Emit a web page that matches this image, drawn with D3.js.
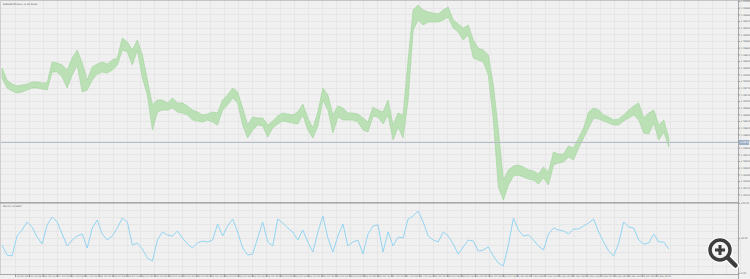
<!DOCTYPE html>
<html><head><meta charset="utf-8">
<script src="https://cdn.jsdelivr.net/npm/d3@7"></script>
<style>html,body{margin:0;padding:0;background:#f0f0f0;overflow:hidden}</style>
</head><body><svg id="c" width="750" height="279"></svg>
<script>
// ---------- data ----------
const chartTitle = "EURUSD,M5  Euro vs US Dollar";
const indicatorTitle = "RSI(14) 34.2857";
const currentPrice = 1.06577;

const priceHigh = [1.06799,1.06763,1.06751,1.06745,1.06748,1.06751,1.06757,1.06757,1.06754,1.06754,
 1.06817,1.06814,1.06808,1.06793,1.06829,1.06853,1.06814,1.06763,1.06802,1.06811,
 1.06817,1.06811,1.06823,1.06829,1.06889,1.06877,1.06853,1.06883,1.06838,1.06763,
 1.06688,1.06703,1.06703,1.06694,1.06709,1.06694,1.06694,1.06685,1.06673,1.06667,
 1.06658,1.06661,1.06667,1.06664,1.06703,1.06718,1.06739,1.06727,1.06679,1.06628,
 1.06652,1.06649,1.06649,1.06628,1.06640,1.06655,1.06664,1.06661,1.06658,1.06667,
 1.06691,1.06649,1.06619,1.06667,1.06739,1.06718,1.06658,1.06685,1.06679,1.06664,
 1.06664,1.06661,1.06649,1.06637,1.06682,1.06673,1.06667,1.06703,1.06628,1.06664,
 1.06658,1.06823,1.06973,1.06988,1.06973,1.06967,1.06964,1.06961,1.06973,1.06982,
 1.06943,1.06931,1.06919,1.06928,1.06883,1.06859,1.06853,1.06838,1.06748,1.06613,
 1.06463,1.06493,1.06505,1.06508,1.06502,1.06493,1.06490,1.06481,1.06502,1.06487,
 1.06547,1.06541,1.06541,1.06565,1.06559,1.06589,1.06619,1.06667,1.06679,1.06673,
 1.06658,1.06652,1.06643,1.06646,1.06658,1.06673,1.06685,1.06694,1.06649,1.06664,
 1.06673,1.06628,1.06643,1.06589];

const priceLow = [1.06769,1.06739,1.06730,1.06724,1.06727,1.06733,1.06739,1.06739,1.06736,1.06733,
 1.06787,1.06787,1.06772,1.06739,1.06778,1.06808,1.06727,1.06733,1.06763,1.06781,
 1.06787,1.06784,1.06793,1.06808,1.06853,1.06847,1.06808,1.06853,1.06769,1.06718,
 1.06613,1.06667,1.06673,1.06673,1.06679,1.06667,1.06664,1.06658,1.06643,1.06640,
 1.06637,1.06643,1.06637,1.06628,1.06673,1.06688,1.06709,1.06694,1.06628,1.06589,
 1.06613,1.06628,1.06625,1.06592,1.06619,1.06631,1.06640,1.06637,1.06634,1.06631,
 1.06658,1.06613,1.06589,1.06625,1.06703,1.06673,1.06604,1.06652,1.06643,1.06643,
 1.06643,1.06637,1.06613,1.06607,1.06655,1.06652,1.06631,1.06658,1.06583,1.06622,
 1.06589,1.06703,1.06913,1.06943,1.06928,1.06937,1.06937,1.06937,1.06943,1.06952,
 1.06919,1.06907,1.06883,1.06898,1.06829,1.06823,1.06817,1.06778,1.06643,1.06442,
 1.06403,1.06448,1.06475,1.06478,1.06472,1.06466,1.06463,1.06451,1.06469,1.06448,
 1.06508,1.06514,1.06517,1.06532,1.06523,1.06559,1.06589,1.06619,1.06649,1.06646,
 1.06640,1.06634,1.06628,1.06628,1.06640,1.06649,1.06658,1.06643,1.06604,1.06601,
 1.06634,1.06583,1.06607,1.06562];

const indicatorValues = [40.0,25.7,24.3,52.9,61.4,72.9,65.7,51.4,41.4,68.6,
 80.0,72.9,55.7,38.6,47.1,52.9,55.7,35.7,64.3,75.7,
 55.7,47.1,52.9,64.3,78.6,72.9,40.0,42.9,34.3,21.4,
 17.1,47.1,58.6,54.3,52.9,60.0,50.0,41.4,35.7,42.9,
 45.7,44.3,47.1,70.0,52.9,67.1,77.1,58.6,35.7,25.7,
 27.1,50.0,72.9,44.3,38.6,77.1,71.4,64.3,58.6,47.1,
 61.4,44.3,30.0,58.6,81.4,50.0,30.0,52.9,70.0,38.6,
 44.3,47.1,27.1,55.7,67.1,68.6,30.0,58.6,38.6,51.4,
 50.0,77.1,81.4,88.6,72.9,52.9,47.1,44.3,58.6,52.9,
 41.4,27.1,37.1,47.1,45.7,31.4,32.9,37.1,24.3,14.3,
 10.0,40.0,78.6,61.4,52.9,54.3,47.1,38.6,32.9,55.7,
 64.3,61.4,60.0,55.7,62.9,62.9,67.1,71.4,77.1,58.6,
 44.3,31.4,24.3,42.9,72.9,65.7,64.3,47.1,41.4,42.9,
 55.7,44.3,44.3,34.3];

const dateLabels = ["16 Oct 2023","16 Oct 08:00","16 Oct 16:00","17 Oct 00:00","17 Oct 08:00","17 Oct 16:00",
 "18 Oct 00:00","18 Oct 08:00","18 Oct 16:00","19 Oct 00:00","19 Oct 08:00","19 Oct 16:00",
 "20 Oct 00:00","20 Oct 08:00","20 Oct 16:00","23 Oct 00:00","23 Oct 08:00","23 Oct 16:00",
 "24 Oct 00:00","24 Oct 08:00","24 Oct 16:00","25 Oct 00:00","25 Oct 08:00","25 Oct 16:00",
 "26 Oct 00:00","26 Oct 08:00","26 Oct 16:00","27 Oct 00:00","27 Oct 08:00","27 Oct 16:00",
 "30 Oct 00:00","30 Oct 08:00","30 Oct 16:00","31 Oct 00:00","31 Oct 08:00","31 Oct 16:00",
 "1 Nov 00:00","1 Nov 08:00","1 Nov 16:00","2 Nov 00:00","2 Nov 08:00","2 Nov 16:00",
 "3 Nov 00:00","3 Nov 08:00","3 Nov 16:00","6 Nov 00:00","6 Nov 08:00"];
const indicatorTicks = [0, 50, 100];

// ---------- layout ----------
const W = 750, H = 279, plotR = 738;
const mainTop = 1, mainBot = 202, indTop = 203, indBot = 273, axisY = 274;
const barsPerDateTick = 2.78, firstDateTick = 2.6, gridCount = 53;

const svg = d3.select("#c");
svg.append("rect").attr("width", W).attr("height", H).attr("fill", "#f0f0f0");

const x = d3.scaleLinear().domain([-0.4, 146.8]).range([0, plotR]);
const y = d3.scaleLinear().domain([1.06397, 1.07000]).range([mainBot, mainTop]);
const yi = d3.scaleLinear().domain([0, 100]).range([indBot, indTop]);

const bars = priceHigh.map((h, i) => ({i, h, l: priceLow[i], v: indicatorValues[i]}));

// grid
const grid = svg.append("g").attr("stroke", "#e6e6e6").attr("stroke-width", 1);
d3.range(gridCount).forEach(k => {
  const gx = Math.round(x(firstDateTick + barsPerDateTick * k)) + 0.5;
  grid.append("line").attr("x1", gx).attr("x2", gx).attr("y1", mainTop).attr("y2", axisY);
});
const priceTicks = y.ticks(30);
priceTicks.forEach(t => {
  const gy = Math.round(y(t)) + 0.5;
  if (gy > mainTop + 1 && gy < mainBot - 1)
    grid.append("line").attr("x1", 0).attr("x2", plotR).attr("y1", gy).attr("y2", gy);
});
d3.range(0, 101, 10).forEach(t => {
  const gy = Math.round(yi(t)) + 0.5;
  if (gy > indTop + 1 && gy < indBot)
    grid.append("line").attr("x1", 0).attr("x2", plotR).attr("y1", gy).attr("y2", gy);
});

// price band (high/low bars)
svg.append("path").datum(bars)
  .attr("fill", "#bbe0b6").attr("stroke", "#a6d5a1").attr("stroke-width", 0.7).attr("stroke-linejoin", "round")
  .attr("d", d3.area().x(d => x(d.i)).y0(d => y(d.l)).y1(d => y(d.h)));

// current price line
const cpY = Math.round(y(currentPrice)) + 0.5;
svg.append("line").attr("x1", 0).attr("x2", plotR).attr("y1", cpY).attr("y2", cpY)
  .attr("stroke", "#b4bdc9").attr("stroke-width", 1);

// indicator
svg.append("path").datum(bars).attr("fill", "none")
  .attr("stroke", "#93d5f2").attr("stroke-width", 1)
  .attr("d", d3.line().x(d => x(d.i)).y(d => yi(d.v)));

// frame + separators
svg.append("line").attr("x1", 0).attr("x2", W).attr("y1", 0.5).attr("y2", 0.5).attr("stroke", "#c4c4c4");
svg.append("line").attr("x1", 0.5).attr("x2", 0.5).attr("y1", 0).attr("y2", axisY).attr("stroke", "#d0d0d0");
svg.append("line").attr("x1", plotR + 0.5).attr("x2", plotR + 0.5).attr("y1", 0).attr("y2", H).attr("stroke", "#a8a8a8");
svg.append("rect").attr("x", 0).attr("y", mainBot).attr("width", plotR).attr("height", 1.6).attr("fill", "#a9a9a9");
svg.append("line").attr("x1", 0).attr("x2", plotR).attr("y1", axisY + 0.5).attr("y2", axisY + 0.5).attr("stroke", "#a8a8a8");

// right price axis
const fontF = "DejaVu Sans, sans-serif";
const priceAxis = d3.axisRight(y).tickValues(priceTicks.filter(t => y(t) < mainBot - 3))
  .tickFormat(d3.format(".5f")).tickSize(2).tickPadding(1);
const pa = svg.append("g").attr("transform", `translate(${plotR},0)`).call(priceAxis);
pa.select(".domain").remove();
pa.selectAll("line").attr("stroke", "#999");
pa.selectAll("text").attr("font-size", 2.3).attr("font-family", fontF).attr("fill", "#666");

// indicator axis
const indAxis = d3.axisRight(yi).tickValues(indicatorTicks).tickFormat(d3.format(".2f")).tickSize(2).tickPadding(1);
const ia = svg.append("g").attr("transform", `translate(${plotR},0)`).call(indAxis);
ia.select(".domain").remove();
ia.selectAll("line").attr("stroke", "#999");
ia.selectAll("text").attr("font-size", 2.3).attr("font-family", fontF).attr("fill", "#666");

// current price tag
svg.append("rect").attr("x", plotR + 1).attr("y", cpY - 2.5).attr("width", 10).attr("height", 5).attr("fill", "#9fb0c6");
svg.append("text").attr("x", plotR + 2).attr("y", cpY + 0.8).attr("font-size", 2.3).attr("font-family", fontF)
  .attr("fill", "#fff").text(d3.format(".5f")(currentPrice));

// bottom date axis
const dateAxis = d3.axisBottom(x)
  .tickValues(dateLabels.map((d, k) => firstDateTick + barsPerDateTick * k))
  .tickFormat((d, k) => dateLabels[k]).tickSize(3).tickPadding(0.5);
const da = svg.append("g").attr("transform", `translate(0,${axisY})`).call(dateAxis);
da.select(".domain").remove();
da.selectAll("line").attr("stroke", "#999");
da.selectAll("text").attr("font-size", 2.2).attr("font-family", fontF).attr("fill", "#666")
  .attr("text-anchor", "start").attr("dx", 1).attr("dy", "-0.2em");

// titles
svg.append("text").attr("x", 3).attr("y", 4.5).attr("font-size", 2.3).attr("font-family", fontF).attr("fill", "#555").text(chartTitle);
svg.append("text").attr("x", 3).attr("y", 206.5).attr("font-size", 2.3).attr("font-family", fontF).attr("fill", "#555").text(indicatorTitle);

// viewer zoom icon overlay
const ic = svg.append("g").attr("transform", "translate(720,250)");
ic.append("line").attr("x1", 8).attr("y1", 8).attr("x2", 15.5).attr("y2", 15.5)
  .attr("stroke", "#fff").attr("stroke-width", 7).attr("stroke-linecap", "round");
ic.append("circle").attr("r", 10).attr("fill", "#f3f3f3").attr("stroke", "#fff").attr("stroke-width", 5.5);
ic.append("circle").attr("r", 10).attr("fill", "#f3f3f3").attr("stroke", "#3d3d3d").attr("stroke-width", 3.5);
ic.append("line").attr("x1", 8).attr("y1", 8).attr("x2", 15.5).attr("y2", 15.5)
  .attr("stroke", "#3d3d3d").attr("stroke-width", 4.5).attr("stroke-linecap", "round");
ic.append("line").attr("x1", -5).attr("x2", 5).attr("y1", 0).attr("y2", 0).attr("stroke", "#3d3d3d").attr("stroke-width", 3);
ic.append("line").attr("x1", 0).attr("x2", 0).attr("y1", -5).attr("y2", 5).attr("stroke", "#3d3d3d").attr("stroke-width", 3);
</script>
</body></html>
